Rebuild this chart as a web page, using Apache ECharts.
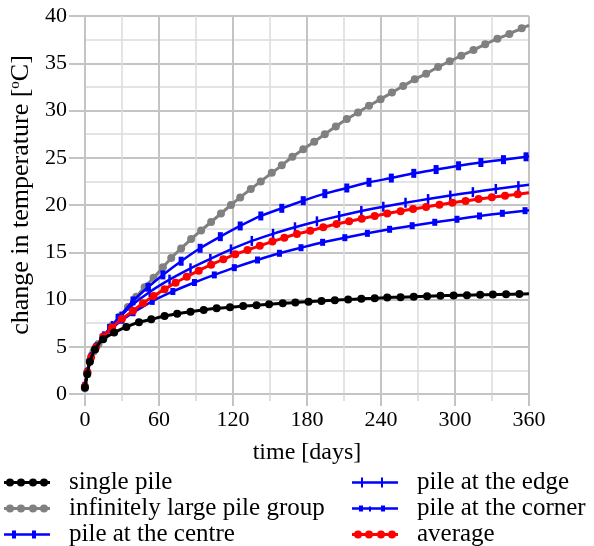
<!DOCTYPE html>
<html>
<head>
<meta charset="utf-8">
<script src="https://cdn.jsdelivr.net/npm/echarts@6/dist/echarts.min.js"></script>
<style>
  html, body { margin: 0; padding: 0; background: #fff; }
  #chart { width: 594px; height: 546px; }
</style>
</head>
<body>
<div id="chart"></div>
<script>
// Axis ticks
const dayTicks = [0, 60, 120, 180, 240, 300, 360];
const tempTicks = [0, 5, 10, 15, 20, 25, 30, 35, 40];

// Temperature change [°C] against time [days], one [day, value] pair per sample
const singlePile = [
  [0, 0.7], [1.9, 2.1], [4.0, 3.4], [8.1, 4.7], [14.8, 5.8], [23.7, 6.5], [33.6, 7.1],
  [43.8, 7.6], [53.8, 7.9], [64.6, 8.25], [74.8, 8.5], [85.6, 8.7], [96.3, 8.9],
  [106.8, 9.07], [117.6, 9.17], [128.3, 9.3], [139.1, 9.4], [149.3, 9.5], [160.4, 9.6],
  [170.6, 9.68], [181.3, 9.77], [191.8, 9.84], [202.6, 9.93], [213.4, 10.0], [224.1, 10.07],
  [234.9, 10.13], [245.1, 10.2], [255.9, 10.25], [266.6, 10.3], [277.4, 10.35], [288.2, 10.39],
  [298.9, 10.43], [309.7, 10.46], [320.4, 10.49], [330.7, 10.52], [341.4, 10.55], [352.2, 10.58],
  [360, 10.6]
];
const infiniteGroup = [
  [0, 0.6], [2, 2.3], [4, 3.5], [7, 4.5], [11, 5.3], [16, 6.2], [22.3, 7.25], [28.3, 8.2],
  [34.9, 9.2], [41.7, 10.3], [48.4, 11.3], [55.7, 12.3], [63.2, 13.4], [70.0, 14.4],
  [78.0, 15.4], [86.1, 16.4], [94.2, 17.3], [102.3, 18.2], [110.3, 19.1], [118.4, 20.0],
  [125.9, 20.8], [134.5, 21.7], [142.6, 22.5], [151.5, 23.4], [159.6, 24.2], [168.2, 25.1],
  [177.0, 25.9], [185.9, 26.7], [194.5, 27.5], [203.4, 28.3], [212.3, 29.1], [221.4, 29.8],
  [230.3, 30.5], [239.7, 31.2], [248.9, 31.9], [258.0, 32.6], [267.4, 33.3], [276.6, 33.9],
  [286.3, 34.6], [295.7, 35.2], [305.1, 35.8], [315.0, 36.4], [324.5, 37.0], [334.4, 37.6],
  [344.1, 38.1], [354.1, 38.7], [360, 39.0]
];
const centrePile = [
  [0, 0.8], [2, 2.3], [5, 3.9], [9, 4.9], [14, 5.9], [20, 6.95], [26.9, 8.0], [39.0, 9.85],
  [51.1, 11.3], [63.2, 12.6], [78.0, 14.05], [93.4, 15.42], [109.8, 16.65], [125.9, 17.78],
  [142.6, 18.84], [159.6, 19.65], [177.0, 20.46], [194.5, 21.2], [212.3, 21.8], [230.3, 22.4],
  [248.4, 22.85], [266.6, 23.35], [284.7, 23.75], [302.9, 24.15], [321.0, 24.5], [339.3, 24.8],
  [357.6, 25.1], [360, 25.15]
];
const edgePile = [
  [0, 0.8], [2, 2.3], [5, 3.9], [9, 4.95], [15, 6.1], [22, 7.2], [29, 8.2], [37.7, 9.35],
  [52.5, 10.8], [68.6, 12.1], [85.6, 13.3], [101.7, 14.3], [118.4, 15.3], [135.3, 16.2],
  [152.5, 16.95], [170.3, 17.64], [188.1, 18.27], [206.1, 18.84], [224.1, 19.37], [241.9, 19.82],
  [259.9, 20.24], [278.2, 20.63], [296.2, 21.0], [314.5, 21.36], [333.1, 21.7], [351.4, 22.0],
  [360, 22.15]
];
const cornerPile = [
  [0, 0.8], [2, 2.3], [5, 3.85], [9, 4.9], [15, 6.0], [22, 6.95], [30, 7.8], [39.0, 8.6],
  [54.6, 9.8], [71.3, 10.85], [88.8, 11.8], [104.9, 12.6], [121.1, 13.37], [139.9, 14.18],
  [157.7, 14.89], [175.2, 15.48], [192.7, 16.05], [210.7, 16.54], [229.0, 17.0], [247.0, 17.43],
  [265.3, 17.81], [283.6, 18.17], [301.6, 18.49], [319.9, 18.84], [338.4, 19.12], [356.8, 19.4],
  [360, 19.45]
];
const averagePile = [
  [0, 0.8], [2, 2.3], [5, 3.9], [9, 4.95], [15, 6.05], [22, 7.05], [30, 7.95], [39.0, 8.8],
  [47.1, 9.6], [55.7, 10.37], [64.6, 11.08], [73.5, 11.78], [82.6, 12.41], [92.3, 13.05],
  [102.3, 13.68], [112.2, 14.25], [121.9, 14.78], [131.8, 15.24], [141.8, 15.69], [152.0, 16.13],
  [161.7, 16.54], [171.9, 16.93], [182.7, 17.28], [193.2, 17.64], [204.0, 17.99], [214.2, 18.27],
  [224.4, 18.55], [234.9, 18.84], [245.1, 19.1], [255.9, 19.35], [266.0, 19.58], [276.6, 19.8],
  [287.4, 20.02], [297.9, 20.24], [308.6, 20.43], [319.1, 20.63], [329.9, 20.81], [340.6, 20.98],
  [350.9, 21.13], [360, 21.3]
];

const FONT = '"Liberation Serif", "Times New Roman", serif';
const BLUE = '#0000ff';

// Legend keys: a short line with the series' marker drawn on it
const dotKey = 'path://M0,2.6H46V5.4H0Z' +
  'M2,4a4,4 0 1,1 8,0a4,4 0 1,1 -8,0Z' +
  'M13,4a4,4 0 1,1 8,0a4,4 0 1,1 -8,0Z' +
  'M25,4a4,4 0 1,1 8,0a4,4 0 1,1 -8,0Z' +
  'M36,4a4,4 0 1,1 8,0a4,4 0 1,1 -8,0Z';
const centreKey = 'path://M0,2.7H46V5.3H0Z M8,0H12V8H8Z M28,0H32V8H28Z';
const edgeKey = 'path://M0,3.7H46V6.3H0Z M9,0H11V10H9Z M29,0H31V10H29Z';
const cornerKey = 'path://M0,1.7H46V4.3H0Z M7,0H11V6H7Z M17,1H19V6H17Z M29,0H33V6H29Z';

function curve(name, data, color, symbol, size, width, z) {
  const last = data.length - 1;
  return {
    name: name,
    type: 'line',
    data: data,
    smooth: 0.2,
    z: z,
    symbol: symbol,
    symbolSize: function (v, p) { return p.dataIndex === last ? 0 : size; },
    showAllSymbol: true,
    lineStyle: { color: color, width: width },
    itemStyle: { color: color, borderWidth: 0 },
    emphasis: { disabled: true },
    animation: false
  };
}

function key(name, icon, left, top, w, h) {
  return {
    data: [{ name: name, icon: icon }],
    left: left, top: top, padding: 0,
    itemWidth: w, itemHeight: h,
    selectedMode: false,
    itemStyle: { borderWidth: 0 },
    textStyle: { fontFamily: FONT, fontSize: 25, color: '#000', lineHeight: 25, padding: [0, 0, 0, 14] }
  };
}

const chart = echarts.init(document.getElementById('chart'), null, { renderer: 'canvas' });

chart.setOption({
  backgroundColor: '#fff',
  animation: false,
  grid: { left: 83, right: 65, top: 16, bottom: 152 },
  legend: [
    key('single pile', dotKey, 4, 470, 46, 8),
    key('infinitely large pile group', dotKey, 4, 496, 46, 8),
    key('pile at the centre', centreKey, 4, 522, 46, 8),
    key('pile at the edge', edgeKey, 352, 470, 46, 10),
    key('pile at the corner', cornerKey, 352, 496, 46, 6),
    key('average', dotKey, 352, 522, 46, 8)
  ],
  xAxis: {
    type: 'value',
    min: dayTicks[0],
    max: dayTicks[dayTicks.length - 1],
    interval: dayTicks[1] - dayTicks[0],
    name: 'time [days]',
    nameLocation: 'middle',
    nameGap: 47,
    nameTextStyle: { fontFamily: FONT, fontSize: 24, color: '#000' },
    axisLine: { show: true, lineStyle: { color: '#c4c4c4', width: 2 } },
    axisTick: { show: true, length: 12, lineStyle: { color: '#c4c4c4', width: 2 } },
    minorTick: { show: true, splitNumber: 2, length: 7, lineStyle: { color: '#d8d8d8', width: 1.5 } },
    axisLabel: { fontFamily: FONT, fontSize: 22, color: '#000', margin: 15 },
    splitLine: { show: true, lineStyle: { color: '#c4c4c4', width: 2 } },
    minorSplitLine: { show: true, lineStyle: { color: '#dcdcdc', width: 1.5 } }
  },
  yAxis: {
    type: 'value',
    min: tempTicks[0],
    max: tempTicks[tempTicks.length - 1],
    interval: tempTicks[1] - tempTicks[0],
    name: 'change in temperature [{sup|o}C]',
    nameLocation: 'middle',
    nameGap: 50,
    nameTextStyle: {
      fontFamily: FONT, fontSize: 26, color: '#000', padding: [0, 0, 0, 20],
      rich: { sup: { fontFamily: FONT, fontSize: 15, color: '#000', verticalAlign: 'top', lineHeight: 26 } }
    },
    axisLine: { show: true, lineStyle: { color: '#c4c4c4', width: 2 } },
    axisTick: { show: true, length: 16, lineStyle: { color: '#c4c4c4', width: 2 } },
    minorTick: { show: false, splitNumber: 2 },
    axisLabel: { fontFamily: FONT, fontSize: 22, color: '#000', margin: 18 },
    splitLine: { show: true, lineStyle: { color: '#c4c4c4', width: 2 } },
    minorSplitLine: { show: true, lineStyle: { color: '#dcdcdc', width: 1.5 } }
  },
  series: [
    curve('infinitely large pile group', infiniteGroup, '#808080', 'circle', 8, 3, 2),
    curve('pile at the centre', centrePile, BLUE, 'rect', [5, 9], 2.5, 3),
    curve('pile at the edge', edgePile, BLUE, 'rect', [2.5, 10], 2.5, 3),
    curve('pile at the corner', cornerPile, BLUE, 'rect', [5, 7], 2.5, 3),
    curve('average', averagePile, '#ff0000', 'circle', 8, 3, 4),
    curve('single pile', singlePile, '#000000', 'circle', 8, 3, 5)
  ]
});
</script>
</body>
</html>
